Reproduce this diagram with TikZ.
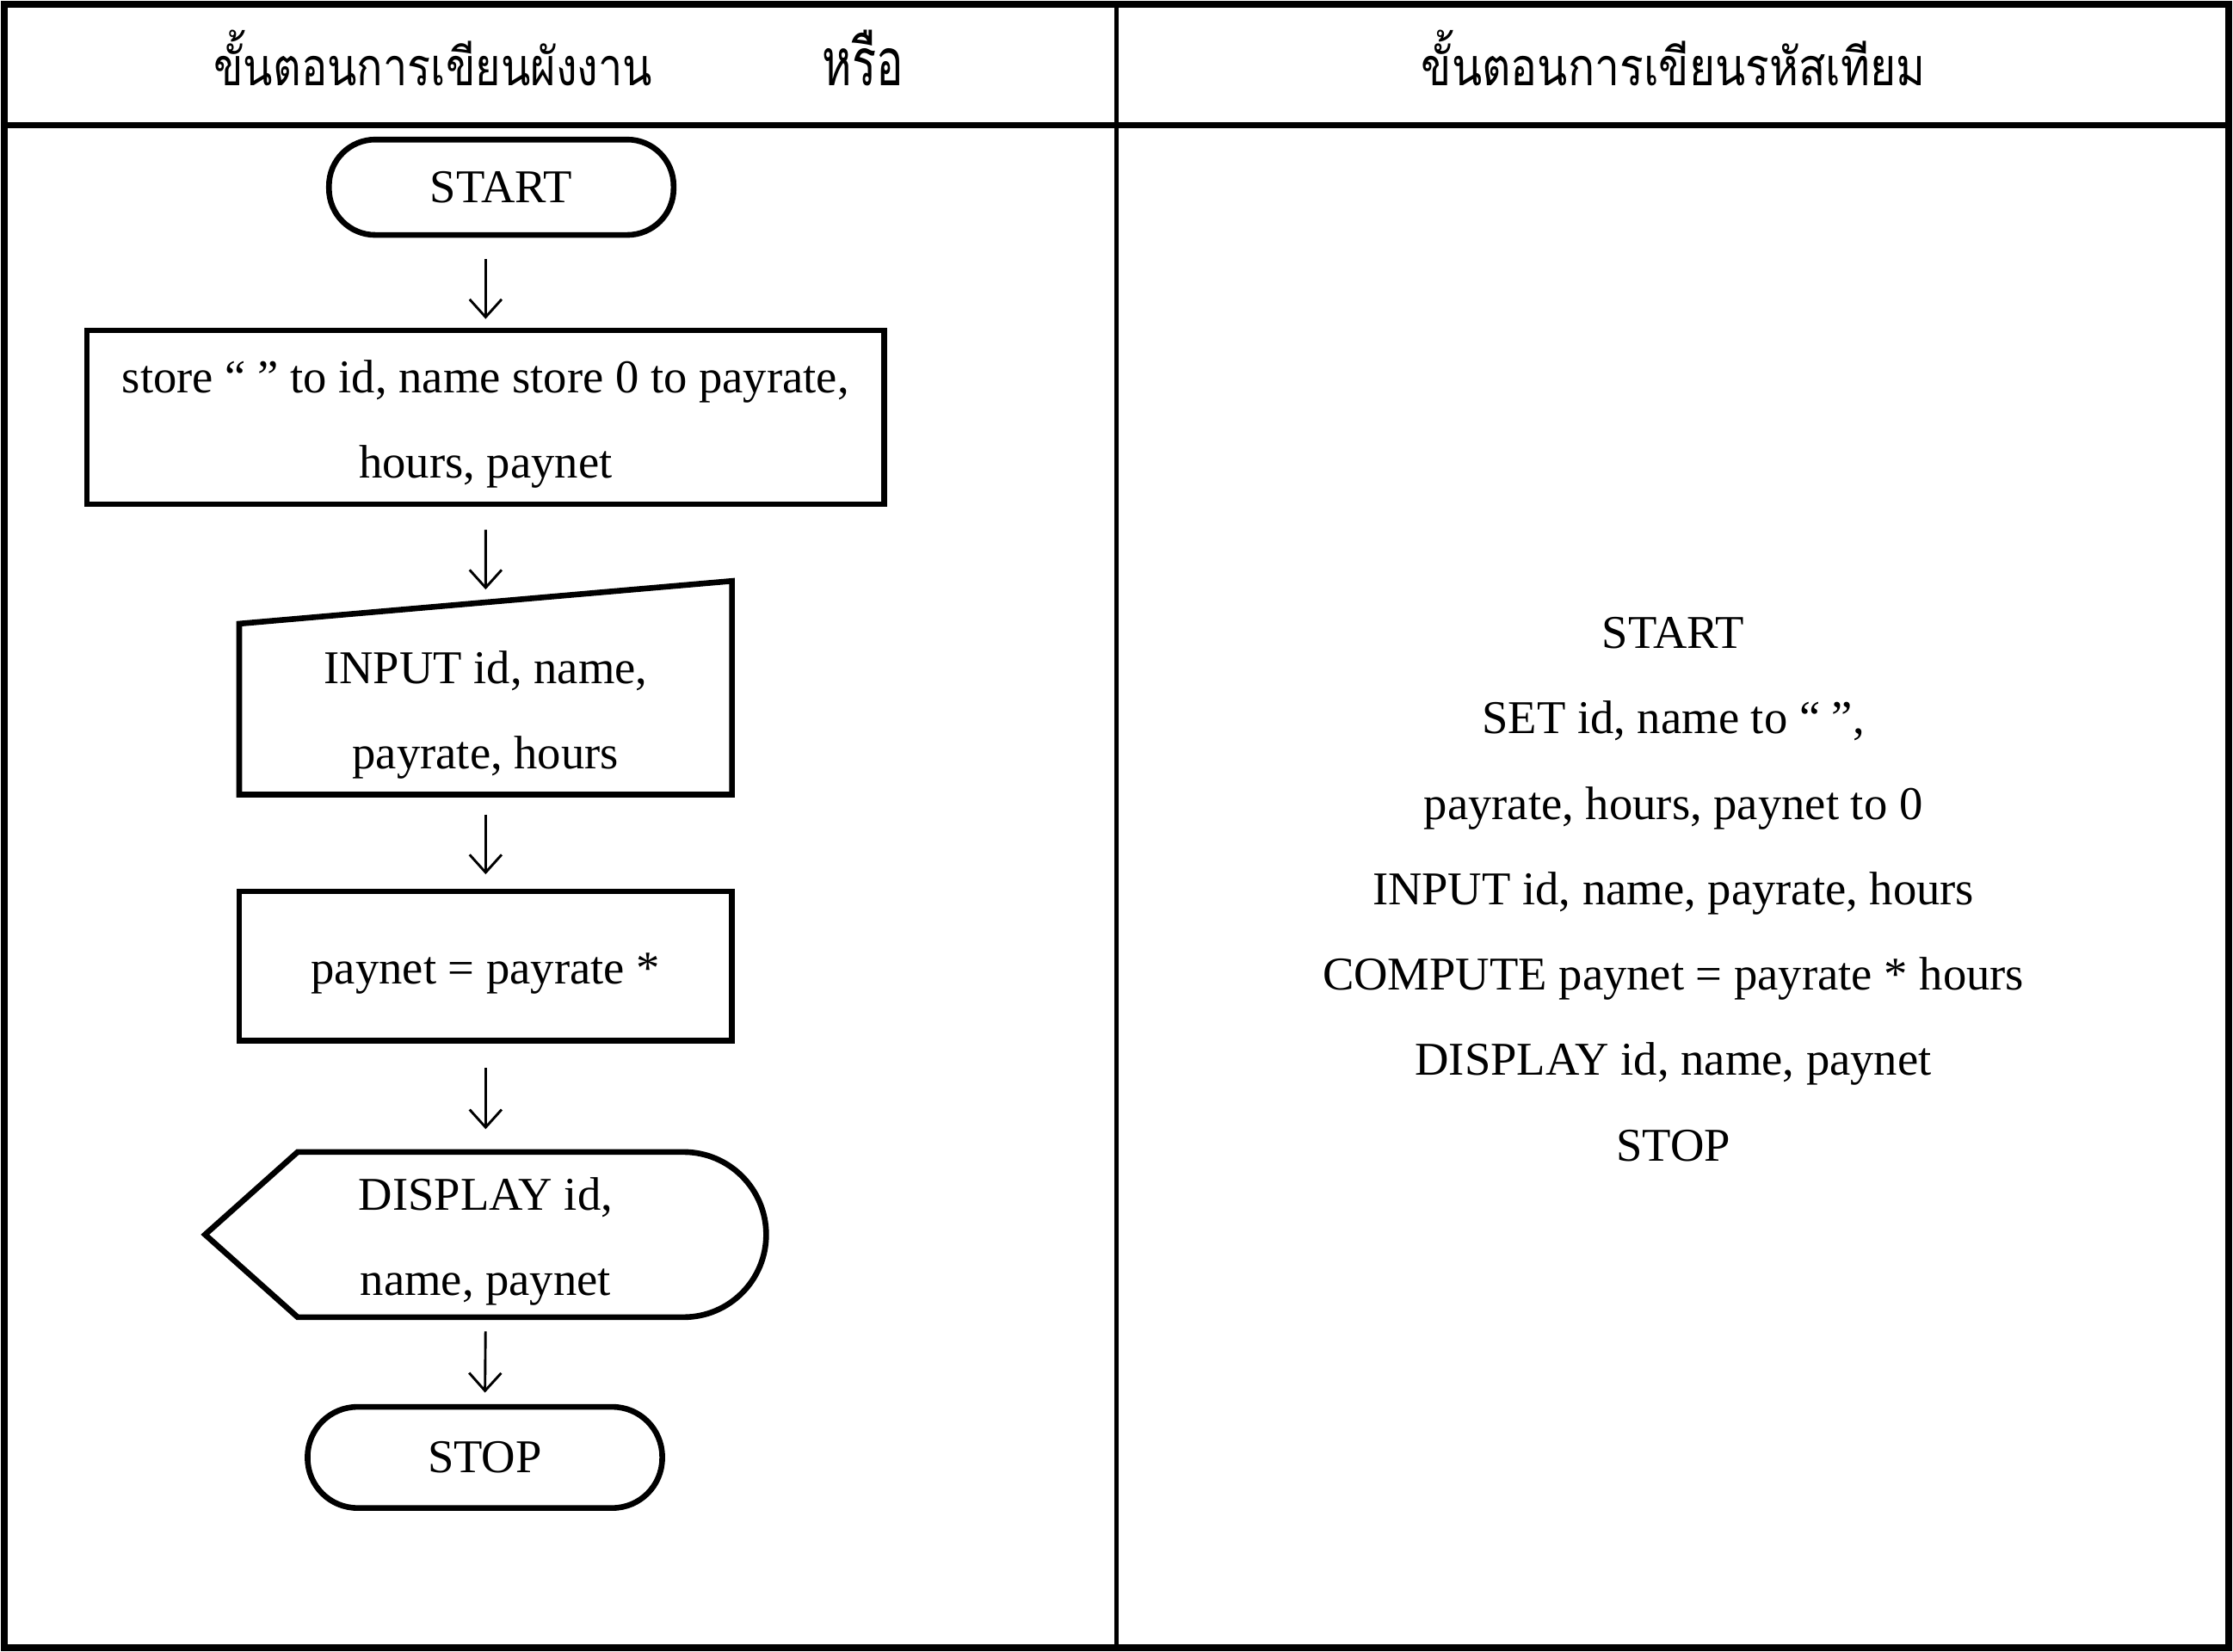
\documentclass[tikz,border=0pt]{standalone}
\usepackage{fontspec}
\setmainfont{Liberation Serif}
\newfontfamily\thaifont[Script=Thai]{Loma}
\usetikzlibrary{arrows.meta,calc}
\newcommand{\thaihead}[2]{\resizebox{#1}{15.6pt}{\thaifont\fontsize{20}{20}\selectfont #2}}
\begin{document}
\begin{tikzpicture}[x=0.4pt,y=-0.4pt,
  shp/.style={draw, line width=1.6pt, inner sep=0pt},
  txt/.style={font=\fontsize{13.2}{24}\selectfont, align=center, inner sep=0pt},
  arr/.style={-{Straight Barb[length=5pt,width=9pt]}, line width=0.7pt},
  head/.style={anchor=base, inner sep=0pt}]
\useasboundingbox (0,0) rectangle (1568,1160);
% table frame
\draw[line width=1.8pt] (3,3) rectangle (1565,1157);
\draw[line width=1.8pt] (3,88) -- (1565,88);
\draw[line width=1.2pt] (784,3) -- (784,1157);
% headers
\node[head] (h1) at (304,60) {\thaihead{123.2pt}{ขั้นตอนการเขียนผังงาน}};
\node[head] (h2) at (606,60) {\thaihead{22.8pt}{หรือ}};
\node[head] (h3) at (1175,60) {\thaihead{141.6pt}{ขั้นตอนการเขียนรหัสเทียม}};
% flowchart
\node[shp, txt, rounded corners=13pt, minimum width=96.8pt, minimum height=26.8pt] (start) at (352,131.5) {START};
\node[shp, minimum width=224pt, minimum height=48.8pt] (box1) at (341,293) {};
\node[txt] (box1txt) at (341,298) {store “ ” to id, name store 0 to payrate,\\hours, paynet};
\node[minimum width=138.4pt, minimum height=60pt, inner sep=0pt, outer sep=0pt] (inp) at (341,483) {};
\coordinate (inpTL) at ($(inp.north west)+(0,30)$);
\coordinate (inpTop) at ($(inpTL)!0.5!(inp.north east)$);
\draw[line width=1.6pt] (inp.south west) -- (inp.south east) -- (inp.north east) -- (inpTL) -- cycle;
\node[txt] (inptxt) at (341,502) {INPUT id, name,\\payrate, hours};
\node[shp, minimum width=138.4pt, minimum height=42pt] (box2) at (341,678.5) {};
\node[txt] (box2txt) at (341,683.5) {paynet = payrate *};
\node[minimum width=157.6pt, minimum height=46.4pt, inner sep=0pt, outer sep=0pt] (disp) at (341,867) {};
\draw[line width=1.6pt] (disp.west) -- ($(disp.north west)+(65,0)$) -- ($(disp.north east)+(-58,0)$)
  arc[start angle=90, end angle=-90, radius=23.2pt] -- ($(disp.south west)+(65,0)$) -- cycle;
\node[txt] (disptxt) at (341,872) {DISPLAY id,\\name, paynet};
\node[shp, txt, rounded corners=14pt, minimum width=99.6pt, minimum height=28.4pt] (stop) at (340.5,1023.5) {STOP};
% connectors
\draw[arr, shorten <=6pt, shorten >=2.4pt] (start.south -| box1.north) -- (box1.north);
\draw[arr, shorten <=6.4pt, shorten >=3.6pt] (box1.south) -- (inpTop);
\draw[arr, shorten <=5.6pt, shorten >=4pt] (inp.south) -- (box2.north);
\draw[arr, shorten <=6.8pt, shorten >=6.4pt] (box2.south) -- (disp.north);
\draw[arr, shorten <=4pt, shorten >=3.2pt] (disp.south) -- (stop.north);
% pseudocode
\node[txt] (pseudo) at (1175,624.5) {START\\SET id, name to “ ”,\\payrate, hours, paynet to 0\\INPUT id, name, payrate, hours\\COMPUTE paynet = payrate * hours\\DISPLAY id, name, paynet\\STOP};
\end{tikzpicture}
\end{document}
